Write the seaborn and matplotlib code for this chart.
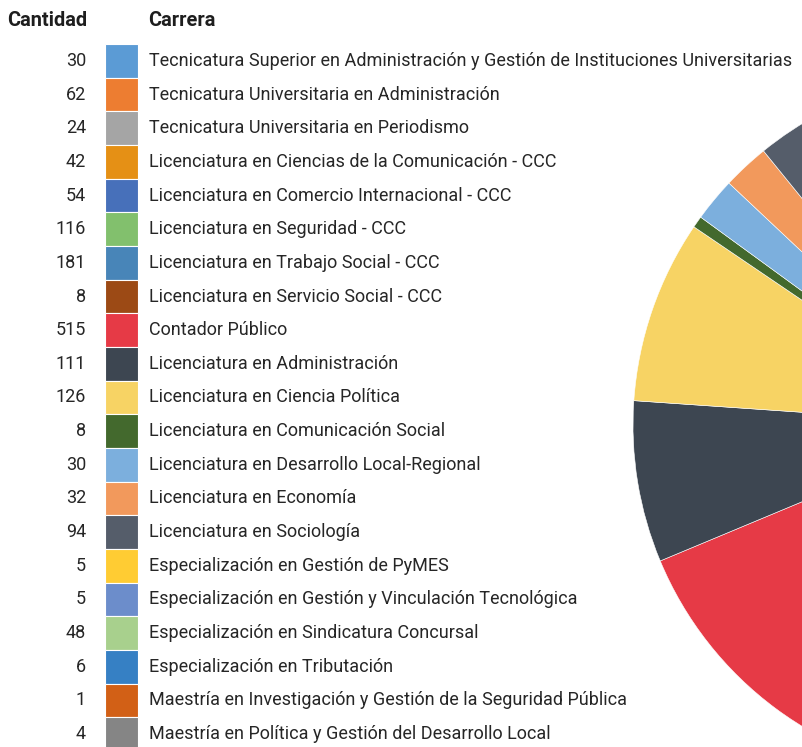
import matplotlib
matplotlib.use("Agg")
import matplotlib.pyplot as plt
import seaborn as sns
import numpy as np

cantidades = [30, 62, 24, 42, 54, 116, 181, 8, 515, 111, 126, 8, 30, 32, 94, 5, 5, 48, 6, 1, 4]
carreras = [
    "Tecnicatura Superior en Administración y Gestión de Instituciones Universitarias",
    "Tecnicatura Universitaria en Administración",
    "Tecnicatura Universitaria en Periodismo",
    "Licenciatura en Ciencias de la Comunicación - CCC",
    "Licenciatura en Comercio Internacional - CCC",
    "Licenciatura en Seguridad - CCC",
    "Licenciatura en Trabajo Social - CCC",
    "Licenciatura en Servicio Social - CCC",
    "Contador Público",
    "Licenciatura en Administración",
    "Licenciatura en Ciencia Política",
    "Licenciatura en Comunicación Social",
    "Licenciatura en Desarrollo Local-Regional",
    "Licenciatura en Economía",
    "Licenciatura en Sociología",
    "Especialización en Gestión de PyMES",
    "Especialización en Gestión y Vinculación Tecnológica",
    "Especialización en Sindicatura Concursal",
    "Especialización en Tributación",
    "Maestría en Investigación y Gestión de la Seguridad Pública",
    "Maestría en Política y Gestión del Desarrollo Local",
]
colores = [
    "#5B9BD5", "#ED7D31", "#A5A5A5", "#E59015", "#4770BA", "#82C06D", "#4885B8",
    "#9C4A15", "#E63A46", "#3D4651", "#F7D364", "#43692D", "#7CAFDD", "#F2995C",
    "#555D6A", "#FFCC33", "#6C8DCB", "#A8D08D", "#3680C4", "#D26016", "#858585",
]
encabezados = ["Cantidad", "Carrera"]

sns.set_theme(style="white")
plt.rcParams["font.family"] = ["Roboto", "DejaVu Sans"]

W, H = 803, 747
fig = plt.figure(figsize=(W / 100, H / 100), dpi=100)
fig.patch.set_facecolor("white")

# ---- legend table ----
n = len(cantidades)
row0, step = 61, 33.65
ax = fig.add_axes([0, 0, 1, 1])
ax.set_xlim(0, W)
ax.set_ylim((H - row0) / step, -row0 / step)
ax.axis("off")
ax.barh(np.arange(n), width=33, left=105, height=1.0, color=colores,
        edgecolor="white", linewidth=0.8)
fs = 13.0
txtcol = "#262626"
for i, (c, lab) in enumerate(zip(cantidades, carreras)):
    ax.text(86, i, str(c), ha="right", va="center", fontsize=fs, color=txtcol)
    ax.text(149, i, lab, ha="left", va="center", fontsize=fs, color=txtcol)
hy = (20 - row0) / step
ax.text(7, hy, encabezados[0], ha="left", va="center", fontsize=14.4,
        fontweight="bold", color="#1e1e1e")
ax.text(148, hy, encabezados[1], ha="left", va="center", fontsize=14.4,
        fontweight="bold", color="#1e1e1e")

# ---- pie ----
cx, cy, r = 986, 425, 353
pax = fig.add_axes([(cx - r) / W, (H - cy - r) / H, 2 * r / W, 2 * r / H])
pax.pie(cantidades, colors=colores, startangle=90, counterclock=False,
        radius=1, wedgeprops=dict(edgecolor="white", linewidth=0.4))
pax.set_xlim(-1, 1)
pax.set_ylim(-1, 1)
pax.axis("off")

fig.savefig("out.png", dpi=100)
